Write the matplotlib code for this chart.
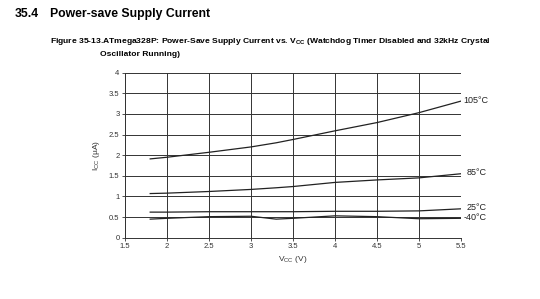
import matplotlib
matplotlib.use('Agg')
import matplotlib.pyplot as plt

plt.rcParams['font.family'] = ['Liberation Sans', 'DejaVu Sans']

# supply voltage (V)
vcc = [1.8, 2.0, 2.5, 3.0, 3.3, 3.5, 4.0, 4.5, 5.0, 5.5]
# supply current (uA) per temperature
i_105 = [1.91, 1.95, 2.07, 2.20, 2.30, 2.38, 2.59, 2.79, 3.03, 3.31]
i_85 = [1.07, 1.08, 1.12, 1.17, 1.21, 1.24, 1.34, 1.40, 1.45, 1.55]
i_25 = [0.62, 0.62, 0.63, 0.63, 0.63, 0.63, 0.64, 0.64, 0.65, 0.70]
i_m40 = [0.45, 0.47, 0.51, 0.52, 0.45, 0.47, 0.53, 0.51, 0.46, 0.47]
labels = ['105°C', '85°C', '25°C', '-40°C']
label_y = [3.32, 1.57, 0.74, 0.49]
label_x = [5.53, 5.57, 5.57, 5.53]

fig = plt.figure(figsize=(5.4, 2.99), dpi=100)
fig.text(0.028, 0.942, '35.4', fontsize=8.8, fontweight='bold')
fig.text(0.093, 0.942, 'Power-save Supply Current', fontsize=8.8, fontweight='bold')
fig.text(0.092, 0.855, 'Figure 35-13.ATmega328P: Power-Save Supply Current vs. V$_{\\mathregular{CC}}$ '
         '(Watchdog Timer Disabled and 32kHz Crystal', fontsize=6.1, fontweight='bold')
fig.text(0.186, 0.812, 'Oscillator Running)', fontsize=6.1, fontweight='bold')

ax = fig.add_axes([0.2315, 0.205, 0.622, 0.552])
for ys in [i_105, i_85, i_25, i_m40]:
    ax.plot(vcc, ys, color='#222222', lw=0.9)
for lab, x, y in zip(labels, label_x, label_y):
    ax.text(x, y, lab, fontsize=6.5, va='center', ha='left', color='#222222')

ax.set_xlim(1.5, 5.5)
ax.set_ylim(0, 4)
ax.set_xticks([1.5, 2, 2.5, 3, 3.5, 4, 4.5, 5, 5.5])
ax.set_xticklabels(['1.5', '2', '2.5', '3', '3.5', '4', '4.5', '5', '5.5'])
ax.set_yticks([0, 0.5, 1, 1.5, 2, 2.5, 3, 3.5, 4])
ax.set_yticklabels(['0', '0.5', '1', '1.5', '2', '2.5', '3', '3.5', '4'])
ax.tick_params(labelsize=5.5, length=2, width=0.6, colors='#333333', pad=2)
ax.grid(True, color='#333333', lw=0.7)
for s in ['top', 'right']:
    ax.spines[s].set_visible(False)
for s in ['left', 'bottom']:
    ax.spines[s].set_color('#333333')
    ax.spines[s].set_linewidth(0.7)
ax.set_xlabel('V$_{\\mathregular{CC}}$ (V)', fontsize=6, color='#333333', labelpad=3)
ax.set_ylabel('I$_{\\mathregular{CC}}$ (µA)', fontsize=6, color='#333333', labelpad=5)

fig.savefig('out.png', dpi=100)
